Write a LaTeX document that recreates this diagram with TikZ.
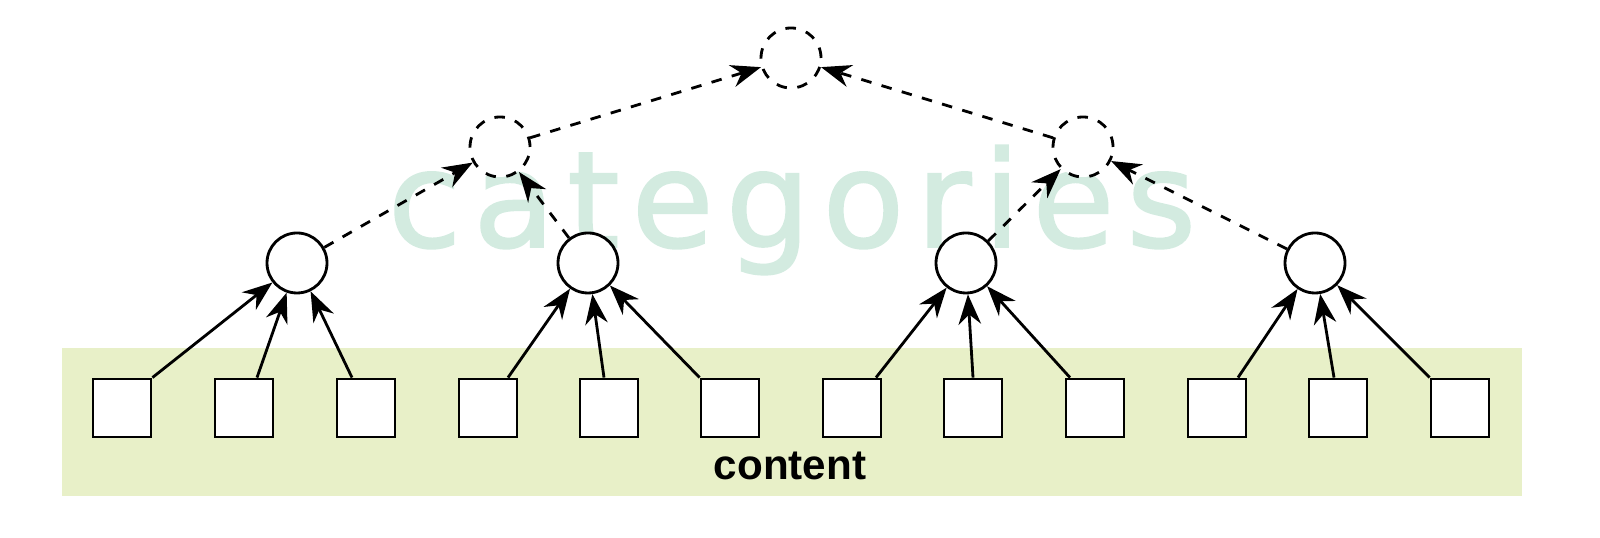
\documentclass[tikz,border=0pt]{standalone}
\usepackage{fontspec}
\setmainfont{Liberation Sans}
\newfontfamily\markfont[LetterSpace=9,FakeBold=1.5]{DejaVu Sans}
\usetikzlibrary{arrows.meta}
\definecolor{contentbg}{HTML}{E8F0C8}
\definecolor{markcol}{HTML}{D3EBE0}
\tikzset{
  item/.style={draw, thick, fill=white, minimum size=0.58cm, inner sep=0pt},
  cat/.style={draw, circle, thick, fill=white, minimum size=0.6cm, inner sep=0pt},
  topcat/.style={cat, dashed},
  up/.style={thick, -{Stealth[length=3mm]}},
  dashup/.style={up, dashed}
}
\begin{document}
\begin{tikzpicture}
\fill[contentbg] (0.62,0.42) rectangle (15.22,1.90);
\node (mark) at (7.92,3.28) {\markfont\fontsize{38}{38}\selectfont\color{markcol}categories};
\node (content) at (7.90,0.72) {\bfseries\fontsize{12}{12}\selectfont content};
% content items
\foreach \i/\x in {1/1.22,2/2.44,3/3.66,4/4.88,5/6.09,6/7.30,7/8.52,8/9.73,9/10.95,10/12.17,11/13.38,12/14.60}
  \node[item] (s\i) at (\x,1.30) {};
% categories
\node[cat] (c1) at (2.97,2.75) {};
\node[cat] (c2) at (5.88,2.75) {};
\node[cat] (c3) at (9.66,2.75) {};
\node[cat] (c4) at (13.15,2.75) {};
\node[topcat] (d1) at (5.00,3.91) {};
\node[topcat] (d2) at (10.83,3.91) {};
\node[topcat] (r) at (7.91,4.80) {};
% edges
\draw[up] (s1.north east) -- (c1);
\draw[up] ([xshift=1.3mm]s2.north) -- (c1);
\draw[up] ([xshift=-1.4mm]s3.north) -- (c1);
\draw[up] ([xshift=2mm]s4.north) -- (c2);
\draw[up] ([xshift=-0.5mm]s5.north) -- (c2);
\draw[up] (s6.north west) -- (c2);
\draw[up] ([xshift=2.4mm]s7.north) -- (c3);
\draw[up] (s8.north) -- (c3);
\draw[up] ([xshift=-2.5mm]s9.north) -- (c3);
\draw[up] ([xshift=2.1mm]s10.north) -- (c4);
\draw[up] ([xshift=-0.4mm]s11.north) -- (c4);
\draw[up] (s12.north west) -- (c4);
\draw[dashup] (c1) -- (d1);
\draw[dashup] (c2) -- (d1);
\draw[dashup] (c3) -- (d2);
\draw[dashup] (c4) -- (d2);
\draw[dashup] (d1) -- (r);
\draw[dashup] (d2) -- (r);
\pgfresetboundingbox
\useasboundingbox (0,0) rectangle (16,5.38);
\end{tikzpicture}
\end{document}
